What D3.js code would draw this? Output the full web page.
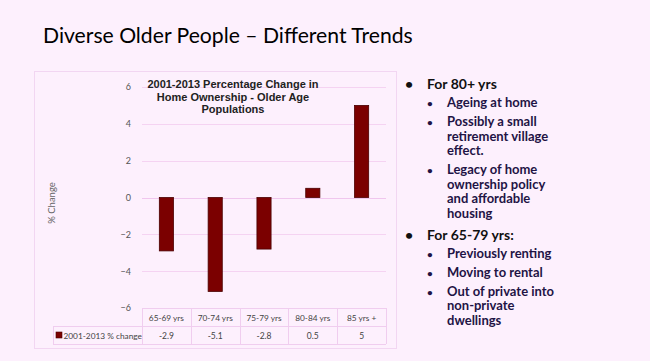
<!DOCTYPE html>
<html>
<head>
<meta charset="utf-8">
<script src="https://cdn.jsdelivr.net/npm/d3@7"></script>
<style>
body{margin:0;background:#fdf0fd;}
svg{display:block;}
</style>
</head>
<body>
<div id="Slide"></div>
<script>
// chart data -------------------------------------------------------------
var Categories = ["65-69 yrs","70-74 yrs","75-79 yrs","80-84 yrs","85 yrs +"];
var ChangeValues = [-2.9,-5.1,-2.8,0.5,5];
var ChangeLabels = ["-2.9","-5.1","-2.8","0.5","5"];
var YTicks = [-6,-4,-2,0,2,4,6];
var SeriesName = "2001-2013 % change";
var ChartTitle = ["2001-2013 Percentage Change in","Home Ownership - Older Age","Populations"];
var SlideTitle = "Diverse Older People \u2013 Different Trends";
var BulletItems = [
	{level:0, lines:["For 80+ yrs"]},
	{level:1, lines:["Ageing at home"]},
	{level:1, lines:["Possibly a small","retirement village","effect."]},
	{level:1, lines:["Legacy of home","ownership policy","and affordable","housing"]},
	{level:0, lines:["For 65-79 yrs:"]},
	{level:1, lines:["Previously renting"]},
	{level:1, lines:["Moving to rental"]},
	{level:1, lines:["Out of private into","non-private","dwellings"]}
];

var Width = 650, Height = 361;
var svg = d3.select("#Slide").append("svg")
	.attr("width",Width).attr("height",Height);

svg.append("rect").attr("width",Width).attr("height",Height).attr("fill","#fdf0fd");

// slide title -------------------------------------------------------------
var TitleText = svg.append("text")
	.attr("x",43).attr("y",43)
	.attr("font-family","Lato, 'Open Sans', sans-serif")
	.attr("font-size",26)
	.attr("fill","#000")
	.text(SlideTitle);
var tw = TitleText.node().getComputedTextLength();
TitleText.attr("font-size",26*370/tw);

// chart panel -------------------------------------------------------------
svg.append("rect")
	.attr("x",34.5).attr("y",71.5).attr("width",362).attr("height",277)
	.attr("fill","#fdf0fd").attr("stroke","#f2d6f2").attr("stroke-width",1);

var PlotLeft = 142, PlotRight = 386;
var y = d3.scaleLinear().domain([-6,6]).range([308,87]);
var x = d3.scaleBand().domain(Categories).range([PlotLeft,PlotRight]).paddingInner(0.71).paddingOuter(0.355);
var xCell = d3.scaleBand().domain(Categories).range([PlotLeft,PlotRight]);

// gridlines
svg.append("g").selectAll("line").data(YTicks).enter().append("line")
	.attr("x1",PlotLeft).attr("x2",PlotRight)
	.attr("y1",function(d){return Math.round(y(d))+0.5;})
	.attr("y2",function(d){return Math.round(y(d))+0.5;})
	.attr("stroke",function(d){return d==0 ? "#f0c6ee" : "#f5d3f2";})
	.attr("stroke-width",1);

// y axis tick labels
var yAxis = d3.axisLeft(y).tickValues(YTicks).tickSize(0).tickPadding(11);
var yg = svg.append("g").attr("transform","translate("+PlotLeft+",0)").call(yAxis);
yg.select(".domain").remove();
yg.selectAll("text")
	.attr("font-family","Lato, sans-serif")
	.attr("font-size",9)
	.attr("fill","#555");

// y axis title
svg.append("text")
	.attr("transform","translate(55,203) rotate(-90)")
	.attr("text-anchor","middle")
	.attr("font-family","Lato, sans-serif")
	.attr("font-size",9.5)
	.attr("fill","#666")
	.text("% Change");

// bars
svg.append("g").selectAll("rect").data(ChangeValues).enter().append("rect")
	.attr("x",function(d,i){return x(Categories[i]);})
	.attr("width",x.bandwidth())
	.attr("y",function(d){return Math.min(y(d),y(0));})
	.attr("height",function(d){return Math.abs(y(d)-y(0));})
	.attr("fill","#7b0000")
	.attr("stroke","#4a0000")
	.attr("stroke-width",0.8);

// chart title
svg.append("text")
	.attr("text-anchor","middle")
	.attr("font-family","'Liberation Sans', Arial, sans-serif")
	.attr("font-weight","bold")
	.attr("font-size",11)
	.attr("fill","#222")
	.selectAll("tspan").data(ChartTitle).enter().append("tspan")
	.attr("x",233)
	.attr("y",function(d,i){return 88+i*12.5;})
	.text(function(d){return d;});

// data table ------------------------------------------------------------------
var TableTop = 308, RowH = 18, TableLeft = 53;
var TableColor = "#f0cdef";
var tg = svg.append("g");
// horizontal lines
tg.append("line").attr("x1",PlotLeft).attr("x2",PlotRight).attr("y1",TableTop+0.5).attr("y2",TableTop+0.5).attr("stroke",TableColor);
tg.append("line").attr("x1",TableLeft).attr("x2",PlotRight).attr("y1",TableTop+RowH+0.5).attr("y2",TableTop+RowH+0.5).attr("stroke",TableColor);
tg.append("line").attr("x1",TableLeft).attr("x2",PlotRight).attr("y1",TableTop+2*RowH+0.5).attr("y2",TableTop+2*RowH+0.5).attr("stroke",TableColor);
// vertical lines
var VLines = Categories.map(function(c){return xCell(c);}).concat([PlotRight]);
tg.selectAll("line.v").data(VLines).enter().append("line")
	.attr("class","v")
	.attr("x1",function(d){return Math.round(d)+0.5;})
	.attr("x2",function(d){return Math.round(d)+0.5;})
	.attr("y1",TableTop).attr("y2",TableTop+2*RowH)
	.attr("stroke",TableColor);
tg.append("line").attr("x1",TableLeft+0.5).attr("x2",TableLeft+0.5).attr("y1",TableTop+RowH).attr("y2",TableTop+2*RowH).attr("stroke",TableColor);

// category labels
tg.selectAll("text.cat").data(Categories).enter().append("text")
	.attr("class","cat")
	.attr("x",function(d){return xCell(d)+xCell.bandwidth()/2;})
	.attr("y",TableTop+12.5)
	.attr("text-anchor","middle")
	.attr("font-family","Lato, sans-serif")
	.attr("font-size",8.3)
	.attr("fill","#444")
	.text(function(d){return d;});
// value labels
tg.selectAll("text.val").data(ChangeLabels).enter().append("text")
	.attr("class","val")
	.attr("x",function(d,i){return xCell(Categories[i])+xCell.bandwidth()/2;})
	.attr("y",TableTop+RowH+12.5)
	.attr("text-anchor","middle")
	.attr("font-family","Lato, sans-serif")
	.attr("font-size",8.5)
	.attr("fill","#444")
	.text(function(d){return d;});
// legend key
tg.append("rect")
	.attr("x",56).attr("y",TableTop+RowH+6).attr("width",6).attr("height",6)
	.attr("fill","#7b0000").attr("stroke","#4a0000").attr("stroke-width",0.6);
tg.append("text")
	.attr("x",63.5).attr("y",TableTop+RowH+12.5)
	.attr("font-family","Lato, sans-serif")
	.attr("font-size",8.3)
	.attr("fill","#444")
	.text(SeriesName);

// bullet text -----------------------------------------------------------------
var bg = svg.append("g").attr("font-family","Lato, 'Open Sans', sans-serif").attr("font-weight","bold");
var Cursor = 89;
BulletItems.forEach(function(item,k){
	var isMain = item.level==0;
	if(k>0) Cursor += isMain ? 22 : (item.level==1 && BulletItems[k-1].level==0 ? 18 : 19);
	var BulletX = isMain ? 405 : 427;
	var TextX = isMain ? 427 : 447;
	var FontSize = isMain ? 14 : 13;
	bg.append("text")
		.attr("x",BulletX).attr("y",Cursor)
		.attr("font-size",isMain ? 14 : 10)
		.attr("fill",isMain ? "#111" : "#1f1445")
		.text("\u2022");
	item.lines.forEach(function(line,j){
		bg.append("text")
			.attr("x",TextX).attr("y",Cursor+j*14.5)
			.attr("font-size",FontSize)
			.attr("font-weight","bold")
			.attr("fill",isMain ? "#111" : "#1f1445")
			.text(line);
	});
	Cursor += (item.lines.length-1)*14.5;
});
</script>
</body>
</html>
